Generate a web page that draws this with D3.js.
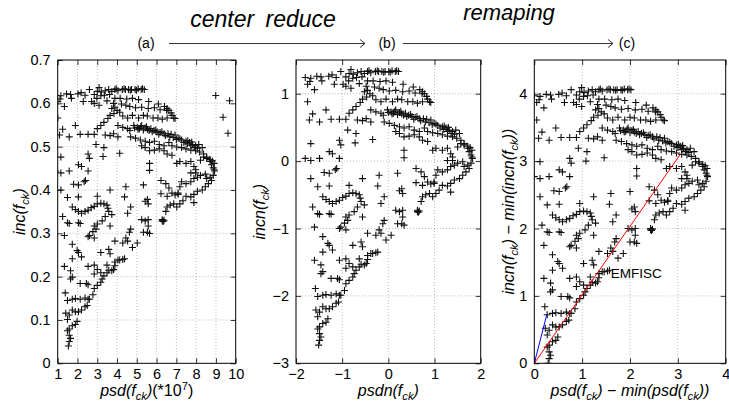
<!DOCTYPE html>
<html>
<head>
<meta charset="utf-8">
<script src="https://cdn.jsdelivr.net/npm/d3@7"></script>
<style>
  body { margin: 0; background: #fff; }
  text { font-family: "Liberation Sans", Arial, sans-serif; fill: #000; }
</style>
</head>
<body>
<svg id="fig" width="729" height="401"></svg>
<script>
const topRow = [[-1.80,1.24],[-1.68,1.23],[-1.55,1.26],[-1.46,1.25],[-1.29,1.26],[-1.22,1.28],[-1.13,1.24],[-1.03,1.33],[-0.92,1.25],[-0.85,1.30],[-0.81,1.36],[-0.76,1.29],[-0.67,1.31],[-0.59,1.33],[-0.52,1.30],[-0.45,1.33],[-0.42,1.34],[-0.38,1.31],[-0.28,1.33],[-0.24,1.34],[-0.21,1.33],[-0.14,1.33],[-0.10,1.32],[-0.07,1.33],[0.01,1.33],[0.04,1.32],[0.08,1.34],[0.15,1.33],[0.18,1.34],[0.22,1.33]];
const secondArc = [[-1.75,1.14],[-1.70,1.18],[-1.44,1.19],[-1.17,1.14],[-0.98,1.14],[-0.86,1.19],[-0.77,1.23],[-0.69,1.24],[-0.57,1.25],[-0.45,1.19],[-0.33,1.19],[-0.18,1.18],[-0.05,1.19],[0.09,1.17],[0.32,1.14],[0.54,1.10],[0.68,1.06],[0.74,1.03],[0.78,1.00],[0.85,0.92],[0.89,0.88],[0.92,0.87]];
const thirdArc = [[-1.60,1.06],[-0.92,1.11],[-0.81,1.08],[-0.63,1.15],[-0.48,1.11],[-0.30,1.10],[-0.20,1.08],[-0.11,1.06],[0.02,1.04],[0.16,1.05],[0.31,1.03],[0.45,1.04],[0.58,1.01],[0.73,1.00],[0.83,0.96],[-1.75,0.88],[-0.52,1.03],[-0.45,1.05],[-0.40,1.00],[-0.34,0.97],[-0.47,0.95],[-0.56,0.92],[-0.61,0.87],[-0.70,0.81],[-0.77,0.76],[-0.85,0.71],[-0.92,0.62],[-1.06,0.62],[-1.24,0.62],[-1.35,0.76],[-1.49,0.58],[-1.71,0.61],[-1.64,0.70],[-0.27,0.91],[-0.16,0.88],[-0.05,0.92],[0.09,0.88],[0.20,0.92],[0.29,0.91],[0.42,0.88],[0.53,0.88],[0.63,0.86],[0.74,0.88]];
const band = [[-0.38,0.76],[-0.27,0.73],[-0.16,0.71],[-0.11,0.68],[-0.02,0.76],[0.06,0.73],[0.11,0.71],[0.16,0.76],[0.24,0.72],[0.29,0.70],[0.37,0.71],[0.44,0.68],[0.51,0.66],[0.58,0.65],[0.67,0.63],[0.76,0.63],[0.83,0.62],[0.92,0.61],[0.99,0.56],[1.07,0.53],[1.17,0.51],[1.25,0.49],[1.32,0.46],[1.39,0.44],[1.46,0.46],[1.54,0.41],[0.00,0.72],[0.08,0.70],[0.20,0.69],[0.14,0.74],[0.27,0.74],[0.33,0.68],[0.40,0.66],[0.48,0.69],[0.55,0.62],[0.62,0.66],[0.70,0.60],[0.80,0.58],[0.88,0.57],[0.95,0.54],[1.03,0.55],[1.12,0.49],[1.20,0.47],[1.28,0.44],[1.36,0.41],[1.43,0.40],[1.21,0.52],[1.30,0.50]];
const bandLower = [[-0.67,0.61],[-0.56,0.60],[-0.48,0.63],[-0.38,0.58],[-0.09,0.58],[0.02,0.56],[0.13,0.53],[0.24,0.51],[0.34,0.49],[0.45,0.51],[0.56,0.46],[0.67,0.44],[0.78,0.49],[0.85,0.44],[0.96,0.42],[1.07,0.41],[1.17,0.39],[1.28,0.37],[1.39,0.36],[1.48,0.34],[1.57,0.31],[1.64,0.26],[1.72,0.22],[1.77,0.20],[1.81,0.16]];
const midBand = [[-1.68,0.26],[-1.28,0.14],[-1.21,0.11],[-1.06,0.31],[-1.03,0.24],[-0.88,0.46],[-0.70,0.41],[-0.72,0.27],[-0.34,0.32],[0.16,0.44],[0.24,0.41],[0.34,0.36],[0.45,0.37],[0.56,0.39],[0.67,0.36],[0.74,0.31],[0.85,0.29],[0.96,0.16],[1.03,0.19],[1.17,0.16],[1.28,0.19],[1.35,0.11],[1.39,0.06],[1.50,0.21],[1.57,0.26],[1.64,0.24],[1.72,0.19],[1.75,0.14],[1.79,0.09],[1.82,0.04],[-1.06,0.04],[-1.68,0.01],[-1.49,0.04],[-1.80,0.04],[0.34,0.16],[0.34,0.05],[-1.12,-0.11],[-1.15,-0.13],[-1.28,-0.18],[-1.39,-0.17]];
const tipLoop = [[1.81,0.06],[1.79,-0.03],[1.75,-0.11],[1.72,-0.06],[1.64,-0.08],[1.61,-0.01],[1.68,-0.16],[1.61,-0.21],[1.54,-0.26],[1.43,-0.28],[1.35,-0.33],[1.28,-0.37],[1.17,-0.36],[1.10,-0.43],[1.03,-0.48],[0.96,-0.53],[0.89,-0.48],[0.81,-0.50],[0.74,-0.53],[1.35,-0.46],[1.50,-0.03],[1.43,-0.06],[1.35,-0.08],[1.28,-0.13],[1.17,-0.16],[1.07,-0.13],[1.03,-0.21],[0.99,-0.31],[0.92,-0.34],[0.85,-0.31],[0.78,-0.23],[0.71,-0.16],[0.60,-0.11],[0.74,-0.36],[0.60,-0.32],[0.99,-0.33],[1.39,0.01],[1.28,0.01]];
const middle = [[-1.68,-0.26],[-1.53,-0.38],[-1.28,-0.37],[-0.85,-0.36],[-0.56,-0.26],[-0.20,-0.21],[-0.23,-0.37],[-0.09,-0.53],[0.20,-0.18],[0.29,-0.41],[0.24,-0.44],[0.31,-0.48],[-0.16,-0.63],[0.16,-0.73],[0.24,-0.75],[0.31,-0.73],[0.31,-0.83],[0.20,-0.93],[0.29,-0.93],[0.34,-0.95],[0.63,-0.75],[0.67,-0.74],[0.63,-0.73],[0.65,-0.76],[0.71,-0.60],[-0.52,-0.65],[-0.56,-0.83],[-1.64,-0.68],[-1.53,-0.78],[-1.49,-0.79],[-1.28,-0.78],[-1.24,-0.79],[-0.92,-0.83],[-0.85,-0.80]];
const hook = [[-1.42,-0.53],[-1.35,-0.57],[-1.28,-0.60],[-1.21,-0.63],[-1.13,-0.60],[-1.06,-0.58],[-0.99,-0.54],[-0.92,-0.52],[-0.85,-0.48],[-0.77,-0.47],[-0.70,-0.48],[-0.63,-0.50],[-0.61,-0.55],[-0.59,-0.60],[-0.67,-0.68],[-0.74,-0.75],[-0.88,-0.88],[-0.95,-0.92],[-1.03,-0.98],[-1.06,-1.00],[-0.92,-1.02]];
const lowerBranches = [[-1.60,-0.98],[-1.42,-1.12],[-1.28,-1.25],[-1.31,-1.22],[-1.21,-1.32],[-1.42,-1.35],[-1.60,-1.47],[-0.77,-1.25],[-0.59,-1.20],[-0.56,-1.27],[-0.45,-1.07],[-0.27,-1.10],[-0.20,-1.02],[-0.16,-1.07],[-0.05,-1.17],[0.06,-1.10],[-0.09,-0.88],[-0.12,-0.93],[-0.38,-1.37],[-0.45,-1.40],[-0.27,-1.36],[-0.63,-1.45],[-0.92,-1.45],[-1.06,-1.47],[-1.46,-1.54],[-1.42,-1.64],[-1.24,-1.74],[-1.10,-1.74],[-1.06,-1.76],[-0.92,-1.59],[-0.85,-1.52],[-0.77,-1.57],[-0.70,-1.62],[-0.63,-1.57],[-0.52,-1.54],[-0.48,-1.52],[-1.46,-1.67],[-1.58,-1.89],[-1.53,-2.01],[-1.42,-1.99],[-1.35,-1.98],[-1.24,-1.99],[-1.13,-1.97],[-1.06,-1.99]];
const spine = [[-1.51,-2.73],[-1.49,-2.66],[-1.46,-2.61],[-1.49,-2.56],[-1.53,-2.49],[-1.49,-2.46],[-1.42,-2.41],[-1.35,-2.39],[-1.31,-2.34],[-1.53,-2.31],[-1.57,-2.21],[-1.49,-2.24],[-1.42,-2.16],[-1.35,-2.19],[-1.28,-2.19],[-1.21,-2.16],[-1.13,-2.11],[-1.08,-2.09],[-1.03,-1.99],[-0.95,-1.92],[-0.92,-1.82],[-0.85,-1.77],[-0.77,-1.72],[-0.74,-1.67],[-0.59,-1.53],[-0.45,-1.46],[-0.34,-1.37],[-0.23,-1.35]];

// Points bruts visibles seulement en (a), hors normalisation
const rawOutliers = [[8.99,0.618],[9.69,0.606],[9.36,0.568],[9.61,0.531]];

// Moyennes et ecarts-types (psd en *1e7)
const psdMean = 4.89, psdStd = 2.22;
const incMean = 0.438, incStd = 0.1458;

// Droites du panneau (c)
const emfiscLine = [[0,0],[3.05,3.1]];
const blueLine = [[0,0],[0.26,0.72]];

// Ticks
const ticksXa = [1,2,3,4,5,6,7,8,9,10];
const ticksYa = [0,0.1,0.2,0.3,0.4,0.5,0.6,0.7];
const ticksXb = [-2,-1,0,1,2];
const ticksYb = [-3,-2,-1,0,1];
const ticksXc = [0,1,2,3,4];
const ticksYc = [0,1,2,3,4];

const pointsN = [].concat(topRow, secondArc, thirdArc, band, bandLower, midBand, tipLoop, middle, hook, lowerBranches, spine);

const svg = d3.select("#fig");

function fmt(d) {
    return String(d).replace("-", "\u2212");
}

/* Ecrit un texte compose de morceaux (italique, indice, exposant) */
function ecrireTexte(g, parts, size) {
    const t = g.append("text").attr("font-size", size);
    let shift = 0;
    parts.forEach(([s, k]) => {
        let target = 0;
        if (k === "sub") target = 4;
        if (k === "sup") target = -6;
        const ts = t.append("tspan").text(s).attr("dy", target - shift);
        shift = target;
        if (k === "sub" || k === "sup") ts.attr("font-size", size * 0.7);
        if (k === "i" || k === "sub") ts.attr("font-style", "italic");
    });
    return t;
}

function croix(g, pts, x, y) {
    g.selectAll("path.pt").data(pts).enter().append("path")
        .attr("class", "pt")
        .attr("d", "M-3.5,0H3.5M0,-3.5V3.5")
        .attr("transform", d => "translate(" + x(d[0]) + "," + y(d[1]) + ")")
        .attr("stroke", "#111")
        .attr("stroke-width", 1.1)
        .attr("fill", "none");
}

/* Dessine un panneau : cadre, grille, ticks vers l'interieur, labels */
function dessinerPanneau(id, box, xDom, yDom, xTicks, yTicks, yFmt, pts, xLab, yLab, yLabX) {
    const x = d3.scaleLinear().domain(xDom).range([box.left, box.right]);
    const y = d3.scaleLinear().domain(yDom).range([box.bottom, box.top]);

    svg.append("clipPath").attr("id", "clip" + id).append("rect")
        .attr("x", box.left).attr("y", box.top)
        .attr("width", box.right - box.left).attr("height", box.bottom - box.top);

    const grille = svg.append("g").attr("stroke", "#000").attr("stroke-opacity", 0.45)
        .attr("stroke-width", 0.6).attr("stroke-dasharray", "1,2");
    grille.selectAll("line.gx").data(xTicks.filter(d => d > xDom[0] && d < xDom[1])).enter()
        .append("line").attr("x1", d => x(d)).attr("x2", d => x(d))
        .attr("y1", box.top).attr("y2", box.bottom);
    grille.selectAll("line.gy").data(yTicks.filter(d => d > yDom[0] && d < yDom[1])).enter()
        .append("line").attr("y1", d => y(d)).attr("y2", d => y(d))
        .attr("x1", box.left).attr("x2", box.right);

    const g = svg.append("g").attr("clip-path", "url(#clip" + id + ")");
    croix(g, pts, x, y);

    const axB = svg.append("g").attr("transform", "translate(0," + box.bottom + ")")
        .call(d3.axisBottom(x).tickValues(xTicks).tickFormat(fmt).tickSizeInner(-5).tickSizeOuter(0).tickPadding(5));
    const axT = svg.append("g").attr("transform", "translate(0," + box.top + ")")
        .call(d3.axisTop(x).tickValues(xTicks).tickFormat("").tickSizeInner(-5).tickSizeOuter(0));
    const axL = svg.append("g").attr("transform", "translate(" + box.left + ",0)")
        .call(d3.axisLeft(y).tickValues(yTicks).tickFormat(yFmt).tickSizeInner(-5).tickSizeOuter(0).tickPadding(7));
    const axR = svg.append("g").attr("transform", "translate(" + box.right + ",0)")
        .call(d3.axisRight(y).tickValues(yTicks).tickFormat("").tickSizeInner(-5).tickSizeOuter(0));
    [axB, axT, axL, axR].forEach(a => {
        a.select(".domain").remove();
        a.attr("font-family", null).attr("font-size", 14.5);
        a.selectAll("line").attr("stroke", "#000").attr("stroke-width", 0.8);
        a.selectAll("text").attr("fill", "#000");
    });

    svg.append("rect").attr("x", box.left).attr("y", box.top)
        .attr("width", box.right - box.left).attr("height", box.bottom - box.top)
        .attr("fill", "none").attr("stroke", "#000").attr("stroke-width", 1);

    const lx = ecrireTexte(svg, xLab, 16);
    lx.attr("x", (box.left + box.right) / 2).attr("y", 396).attr("text-anchor", "middle");
    const gy = svg.append("g").attr("transform", "translate(" + yLabX + "," + (box.top + box.bottom) / 2 + ") rotate(-90)");
    ecrireTexte(gy, yLab, 16).attr("text-anchor", "middle");

    return [x, y, g];
}

/* Titres et fleches du haut */
function dessinerEntete() {
    svg.append("text").attr("x", 263).attr("y", 27).attr("text-anchor", "middle")
        .attr("font-size", 23).attr("font-style", "italic").attr("word-spacing", 5)
        .text("center reduce");
    svg.append("text").attr("x", 509).attr("y", 20).attr("text-anchor", "middle")
        .attr("font-size", 22).attr("font-style", "italic").text("remaping");
    [["(a)", 146], ["(b)", 387], ["(c)", 627]].forEach(([s, px]) => {
        svg.append("text").attr("x", px).attr("y", 48).attr("text-anchor", "middle")
            .attr("font-size", 14).text(s);
    });
    [[169, 365], [403, 613]].forEach(([x0, x1]) => {
        svg.append("path")
            .attr("d", "M" + x0 + ",43.5H" + x1 + "M" + (x1 - 5) + ",39.5L" + x1 + ",43.5L" + (x1 - 5) + ",47.5")
            .attr("stroke", "#333").attr("stroke-width", 1).attr("fill", "none");
    });
}

dessinerEntete();

const boxA = {left: 57.7, right: 235.7, top: 60, bottom: 363.3};
const boxB = {left: 296, right: 480.7, top: 60, bottom: 363.3};
const boxC = {left: 534.3, right: 725.7, top: 60, bottom: 363.3};

// (a) valeurs brutes
const pointsA = pointsN.map(d => [d[0] * psdStd + psdMean, d[1] * incStd + incMean]).concat(rawOutliers);
dessinerPanneau("a", boxA, [1, 10], [0, 0.7], ticksXa, ticksYa, d => d === 0 ? "0" : d.toFixed(1), pointsA,
    [["psd(f", "i"], ["ck", "sub"], [")", "i"], ["(*10", "n"], ["7", "sup"], [")", "n"]],
    [["inc(f", "i"], ["ck", "sub"], [")", "i"]], 25);

// (b) centre reduit
dessinerPanneau("b", boxB, [-2, 2], [-3, 1.5], ticksXb, ticksYb, fmt, pointsN,
    [["psdn(f", "i"], ["ck", "sub"], [")", "i"]],
    [["incn(f", "i"], ["ck", "sub"], [")", "i"]], 265);

// (c) remappe : on retire le minimum
const minX = d3.min(pointsN, d => d[0]), minY = d3.min(pointsN, d => d[1]);
const pointsC = pointsN.map(d => [d[0] - minX, d[1] - minY]);
const [xc, yc, gc] = dessinerPanneau("c", boxC, [0, 4], [0, 4.5], ticksXc, ticksYc, fmt, pointsC,
    [["psd(f", "i"], ["ck", "sub"], [")", "i"], [" \u2212 ", "n"], ["min(psd(f", "i"], ["ck", "sub"], ["))", "i"]],
    [["incn(f", "i"], ["ck", "sub"], [")", "i"], [" \u2212 ", "n"], ["min(incn(f", "i"], ["ck", "sub"], ["))", "i"]], 514);

const ligne = d3.line().x(d => xc(d[0])).y(d => yc(d[1]));
gc.append("path").attr("d", ligne(emfiscLine)).attr("stroke", "#ff0000").attr("stroke-width", 1).attr("fill", "none");
gc.append("path").attr("d", ligne(blueLine)).attr("stroke", "#0000ff").attr("stroke-width", 1).attr("fill", "none");
svg.append("text").attr("x", xc(1.6)).attr("y", yc(1.27)).attr("font-size", 13.5).text("EMFISC");
</script>
</body>
</html>
